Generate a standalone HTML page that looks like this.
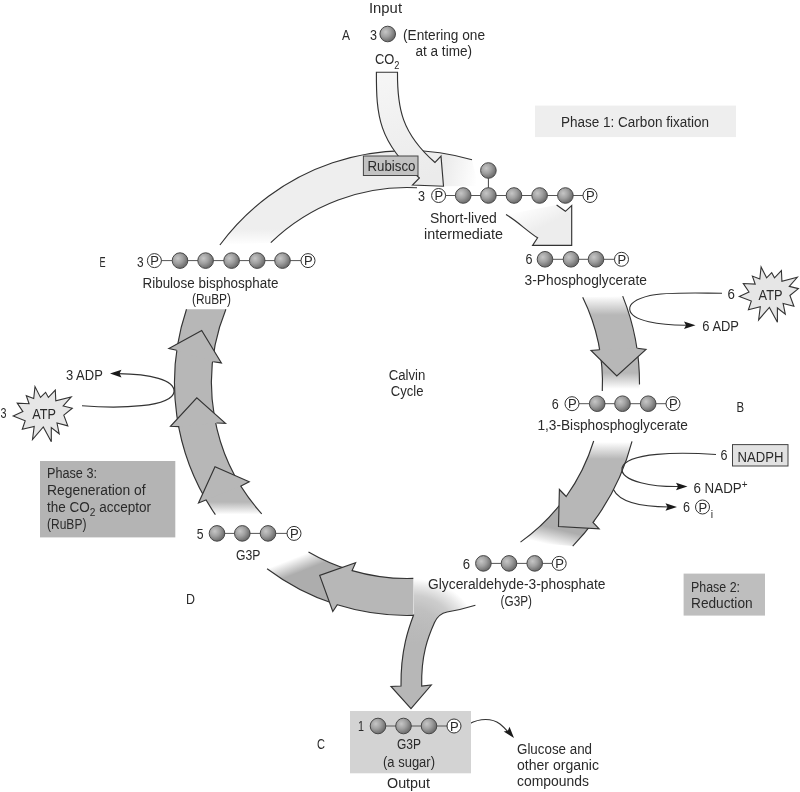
<!DOCTYPE html>
<html><head><meta charset="utf-8"><title>Calvin Cycle</title>
<style>
html,body{margin:0;padding:0;background:#fff;}
svg{display:block;filter:grayscale(1);}
text{font-family:"Liberation Sans",sans-serif;fill:#2a2a2a;}
</style></head><body>
<svg width="800" height="792" viewBox="0 0 800 792">
<defs>
<radialGradient id="ball" cx="0.36" cy="0.36" r="0.72">
<stop offset="0" stop-color="#c6c6c6"/><stop offset="0.45" stop-color="#a0a0a0"/><stop offset="1" stop-color="#606060"/>
</radialGradient>

<linearGradient id="gIn" gradientUnits="userSpaceOnUse" x1="386" y1="72" x2="420" y2="180"><stop offset="0" stop-color="#f6f6f6"/><stop offset="0.5" stop-color="#f0f0f0"/><stop offset="1" stop-color="#ebebeb"/></linearGradient>
<linearGradient id="gA1" gradientUnits="userSpaceOnUse" x1="0" y1="245" x2="0" y2="229"><stop offset="0" stop-color="#ffffff"/><stop offset="1" stop-color="#eeeeee"/></linearGradient>
<linearGradient id="gA1r" gradientUnits="userSpaceOnUse" x1="440" y1="170" x2="478" y2="178"><stop offset="0" stop-color="#e9e9e9"/><stop offset="1" stop-color="#ffffff"/></linearGradient>
<linearGradient id="gA2" gradientUnits="userSpaceOnUse" x1="524" y1="206" x2="536" y2="230"><stop offset="0" stop-color="#ffffff"/><stop offset="1" stop-color="#ededed"/></linearGradient>
<linearGradient id="gA3" gradientUnits="userSpaceOnUse" x1="0" y1="296" x2="0" y2="315"><stop offset="0" stop-color="#ffffff"/><stop offset="1" stop-color="#b7b7b7"/></linearGradient>
<linearGradient id="gA3b" gradientUnits="userSpaceOnUse" x1="0" y1="373" x2="0" y2="389"><stop offset="0" stop-color="#b7b7b7"/><stop offset="1" stop-color="#ffffff"/></linearGradient>
<linearGradient id="gA4" gradientUnits="userSpaceOnUse" x1="0" y1="442" x2="0" y2="459"><stop offset="0" stop-color="#ffffff"/><stop offset="1" stop-color="#b7b7b7"/></linearGradient>
<linearGradient id="gA4b" gradientUnits="userSpaceOnUse" x1="565" y1="531" x2="561" y2="547.5"><stop offset="0" stop-color="#adadad"/><stop offset="1" stop-color="#ffffff"/></linearGradient>
<radialGradient id="gA5r" gradientUnits="userSpaceOnUse" cx="0" cy="0" r="1" gradientTransform="translate(410,630) scale(72,56)"><stop offset="0" stop-color="#bcbcbc"/><stop offset="0.4" stop-color="#c0c0c0"/><stop offset="0.62" stop-color="#cdcdcd"/><stop offset="0.78" stop-color="#e6e6e6"/><stop offset="0.92" stop-color="#ffffff"/></radialGradient>
<linearGradient id="gA5s" gradientUnits="userSpaceOnUse" x1="0" y1="612" x2="0" y2="644"><stop offset="0" stop-color="#b7b7b7" stop-opacity="0"/><stop offset="1" stop-color="#b7b7b7" stop-opacity="1"/></linearGradient>
<linearGradient id="gA5l" gradientUnits="userSpaceOnUse" x1="288" y1="560.5" x2="293.5" y2="574.5"><stop offset="0" stop-color="#ffffff"/><stop offset="1" stop-color="#adadad"/></linearGradient>
<linearGradient id="gA7" gradientUnits="userSpaceOnUse" x1="0" y1="502" x2="0" y2="514.5"><stop offset="0" stop-color="#b7b7b7"/><stop offset="1" stop-color="#ffffff"/></linearGradient>
</defs>
<rect x="0" y="0" width="800" height="792" fill="#fff"/>
<path d="M219.9,245 A232.5,232.5 0 0 1 441,153 L441,155.6 L443.5,186.2 L412.5,185 L413,187.6 A195.5,195.5 0 0 0 270.8,242.7 Z" fill="url(#gA1)"/>
<path d="M441,155.6 L441,153 A232.5,232.5 0 0 1 472,159.8 L478,186 L443.5,186.2 Z" fill="url(#gA1r)"/>
<path d="M219.9,245 A232.5,232.5 0 0 1 472,159.8" fill="none" stroke="#333" stroke-width="1.15" stroke-linejoin="miter"/>
<path d="M270.8,242.7 A195.5,195.5 0 0 1 417,187.8" fill="none" stroke="#333" stroke-width="1.15" stroke-linejoin="miter"/>
<path d="M376.4,72.2 L397.5,72.2 C397.2,108.1 401.7,133.2 435,162.5 L441,156.1 L443.5,186.25 L412.5,185 L419.4,178 C378.5,142.3 376.2,115.4 376.4,72.2 Z" fill="url(#gIn)" stroke="#333" stroke-width="1.15" stroke-linejoin="miter"/>
<rect x="363.4" y="156" width="54.6" height="19.5" fill="#c2c2c2" stroke="#444" stroke-width="1"/>
<text x="367.5" y="171" font-size="14" textLength="48" lengthAdjust="spacingAndGlyphs" >Rubisco</text>
<path d="M506,214.6 C516,220 528,232 537.6,237.8 L532.6,245.4 L571.7,245.4 L571.7,205.5 L565.4,211.3 L556.6,205 " fill="url(#gA2)" stroke="#333" stroke-width="1.15" stroke-linejoin="miter"/>
<path d="M622.7,296.1 A232.5,232.5 0 0 1 637.4,352 L600,352 A195.5,195.5 0 0 0 582.7,297.3 Z" fill="url(#gA3)"/>
<path d="M636.4,345.2 A232.5,232.5 0 0 1 639.4,391 L602.3,391 A195.5,195.5 0 0 0 598.8,345 Z" fill="url(#gA3b)"/>
<path d="M622.7,296.1 A232.5,232.5 0 0 1 639.5,384.5" fill="none" stroke="#333" stroke-width="1.15" stroke-linejoin="miter"/>
<path d="M582.7,297.3 A195.5,195.5 0 0 1 602.3,391" fill="none" stroke="#333" stroke-width="1.15" stroke-linejoin="miter"/>
<path d="M599.7,349.8 L591,350.5 L616.8,375.9 L646,349.4 L637.3,348.3" fill="#b7b7b7" stroke="#333" stroke-width="1.15" stroke-linejoin="miter"/>
<path d="M594.3,520.7 A232.5,232.5 0 0 1 572.7,546.1 L520.5,542.1 A195.5,195.5 0 0 0 565.1,498 Z" fill="url(#gA4b)"/>
<path d="M594.3,520.7 A232.5,232.5 0 0 1 572.7,546.1" fill="none" stroke="#333" stroke-width="1.15" stroke-linejoin="miter"/>
<path d="M565.1,498 A195.5,195.5 0 0 1 520.5,542.1" fill="none" stroke="#333" stroke-width="1.15" stroke-linejoin="miter"/>
<path d="M632,441.4 A232.5,232.5 0 0 1 593,522.4 L599.1,528.8 L558.5,526.5 L559.4,489.5 L566.2,496.5 A195.5,195.5 0 0 0 593.7,441" fill="url(#gA4)"/>
<path d="M632,441.4 A232.5,232.5 0 0 1 593,522.4 L599.1,528.8 L558.5,526.5 L559.4,489.5 L566.2,496.5 A195.5,195.5 0 0 0 593.7,441" fill="none" stroke="#333" stroke-width="1.15" stroke-linejoin="miter"/>
<path d="M334.7,604 A232.5,232.5 0 0 1 267.1,568.7 L308.5,551.9 A195.5,195.5 0 0 0 352.1,570.6 Z" fill="url(#gA5l)"/>
<path d="M334.7,604 A232.5,232.5 0 0 1 267.1,568.7" fill="none" stroke="#333" stroke-width="1.15" stroke-linejoin="miter"/>
<path d="M352.1,570.6 A195.5,195.5 0 0 1 308.5,551.9" fill="none" stroke="#333" stroke-width="1.15" stroke-linejoin="miter"/>
<path d="M413.3,578.4 A195.5,195.5 0 0 0 470.3,568 L475.4,605.2 A232.5,232.5 0 0 1 447.1,612 C441 613.2 437 617 434.5 622.5 C428 637 421 655 421.7 686 L431.3,685 L411,708.7 L391,686.5 L401,686 C400.5 650 409 627 413.8 614.5 Z" fill="url(#gA5r)"/>
<path d="M413.3,578.4 A195.5,195.5 0 0 0 470.3,568 L475.4,605.2 A232.5,232.5 0 0 1 447.1,612 C441 613.2 437 617 434.5 622.5 C428 637 421 655 421.7 686 L431.3,685 L411,708.7 L391,686.5 L401,686 C400.5 650 409 627 413.8 614.5 Z" fill="url(#gA5s)"/>
<path d="M475.4,605.2 A232.5,232.5 0 0 1 447.1,612 C441 613.2 437 617 434.5 622.5 C428 637 421 655 421.7 686 L431.3,685 L411,708.7 L391,686.5 L401,686 C400.5 650 409 627 413.8 614.5" fill="none" stroke="#333" stroke-width="1.15" stroke-linejoin="miter"/>
<path d="M413.3,578.4 A195.5,195.5 0 0 1 352.1,570.6 L355.6,562.7 L319.7,575.4 L332.8,611.5 L337.3,604.8 A232.5,232.5 0 0 0 413.3,615.4" fill="#b7b7b7"/>
<path d="M413.3,578.4 A195.5,195.5 0 0 1 352.1,570.6 L355.6,562.7 L319.7,575.4 L332.8,611.5 L337.3,604.8 A232.5,232.5 0 0 0 413.3,615.4" fill="none" stroke="#333" stroke-width="1.15" stroke-linejoin="miter"/>
<path d="M203.3,495.2 A232.5,232.5 0 0 1 186.5,309.3 L225.9,309.3 A195.5,195.5 0 0 0 247.1,495.5 Z" fill="#b7b7b7"/>
<path d="M215.4,514.7 A232.5,232.5 0 0 1 202.9,494.4 L246.7,494.8 A195.5,195.5 0 0 0 261.7,513.8 Z" fill="url(#gA7)"/>
<path d="M215.4,514.7 A232.5,232.5 0 0 1 186.5,309.3" fill="none" stroke="#333" stroke-width="1.15" stroke-linejoin="miter"/>
<path d="M261.7,513.8 A195.5,195.5 0 0 1 225.9,309.3" fill="none" stroke="#333" stroke-width="1.15" stroke-linejoin="miter"/>
<path d="M206.5,499.8 L198.5,503 L215,466.8 L249.2,481.8 L240.5,486.2" fill="#b7b7b7" stroke="#333" stroke-width="1.15" stroke-linejoin="miter"/>
<path d="M179.2,426.6 L170.5,426.3 L196.8,397.8 L225.5,423.3 L216.5,423" fill="#b7b7b7" stroke="#333" stroke-width="1.15" stroke-linejoin="miter"/>
<path d="M176.6,350.2 L168.9,348.6 L201.7,330.5 L221.4,362.9 L213.2,361.7" fill="#b7b7b7" stroke="#333" stroke-width="1.15" stroke-linejoin="miter"/>
<path d="M722,293.2 C692,293 664,292 650,295.5 C636,299 629,304 629.7,309.5 C631,321 660,325.5 688,325.2" fill="none" stroke="#333" stroke-width="1.15"/>
<polygon points="695.5,325.2 684,329 686,325.2 684,321.4" fill="#1a1a1a"/>
<path d="M716,454.5 C680,452 626,452 622,468 C620,482 655,487 680,486.5" fill="none" stroke="#333" stroke-width="1.15"/>
<polygon points="687.5,486.5 676,490.3 678,486.5 676,482.7" fill="#1a1a1a"/>
<path d="M613.4,489.6 C620,503 645,507 669,507" fill="none" stroke="#333" stroke-width="1.15"/>
<polygon points="677,507 665.5,510.8 667.5,507 665.5,503.2" fill="#1a1a1a"/>
<path d="M82,405.7 C120,409 172,407 174,391.8 C175,380 150,374 118,373.6" fill="none" stroke="#333" stroke-width="1.15"/>
<polygon points="110,373.6 121.5,369.8 119.5,373.6 121.5,377.4" fill="#1a1a1a"/>
<path d="M469,724 C480,718 492,718 500,724 C505,728 508,732 510,734" fill="none" stroke="#333" stroke-width="1.15"/>
<polygon points="514,738 503.7,731.6 507.9,730.7 509.5,726.7" fill="#1a1a1a"/>
<polygon points="739.3,296.4 749,292 743.3,283.5 755.2,284.1 752.4,276.1 759.8,279 761.1,267 766.6,277.8 771.7,272.7 774.5,277.8 781.4,270.5 781.9,281.3 797.3,277.3 789.3,286.4 798.4,288.6 789.9,295.5 793.9,306.3 783.1,303.4 785.3,314.2 777.4,308 777.4,322.2 769.4,307.4 758.6,319.9 760.3,306.8 748.4,309.7 751.3,301.1" fill="#e6e6e6" stroke="#333" stroke-width="1.1" stroke-linejoin="miter"/>
<polygon points="13.2,416 22.9,411.6 17.2,403.1 29.1,403.7 26.3,395.7 33.7,398.6 35,386.6 40.5,397.4 45.6,392.3 48.4,397.4 55.3,390.1 55.8,400.9 71.2,396.9 63.2,406 72.3,408.2 63.8,415.1 67.8,425.9 57,423 59.2,433.8 51.3,427.6 51.3,441.8 43.3,427 32.5,439.5 34.2,426.4 22.3,429.3 25.2,420.7" fill="#e6e6e6" stroke="#333" stroke-width="1.1" stroke-linejoin="miter"/>
<rect x="535" y="105.6" width="201" height="31.5" fill="#eeeeee"/>
<text x="561" y="126.8" font-size="14" textLength="148" lengthAdjust="spacingAndGlyphs" >Phase 1: Carbon fixation</text>
<rect x="683.6" y="573.6" width="81.4" height="42" fill="#bebebe"/>
<text x="691" y="592.1" font-size="14" textLength="49" lengthAdjust="spacingAndGlyphs" >Phase 2:</text>
<text x="691" y="608" font-size="14" textLength="61.6" lengthAdjust="spacingAndGlyphs" >Reduction</text>
<rect x="40" y="461" width="135.3" height="76.4" fill="#b4b4b4"/>
<text x="47" y="478.1" font-size="14" textLength="50" lengthAdjust="spacingAndGlyphs" >Phase 3:</text>
<text x="47" y="495" font-size="14" textLength="98.7" lengthAdjust="spacingAndGlyphs" >Regeneration of</text>
<text x="47" y="511.5" font-size="14" textLength="104" lengthAdjust="spacingAndGlyphs" >the CO<tspan font-size="10.5" dy="4">2</tspan><tspan dy="-4"> acceptor</tspan></text>
<text x="47" y="528.5" font-size="14" textLength="39.4" lengthAdjust="spacingAndGlyphs" >(RuBP)</text>
<rect x="350" y="711" width="121" height="62.3" fill="#d3d3d3"/>
<rect x="732.5" y="444.6" width="55.5" height="21.4" fill="#e2e2e2" stroke="#444" stroke-width="1"/>
<text x="737.6" y="461.5" font-size="14" textLength="45.9" lengthAdjust="spacingAndGlyphs" >NADPH</text>
<circle cx="387.7" cy="34" r="7.8" fill="url(#ball)" stroke="#484848" stroke-width="1"/>
<line x1="488.4" y1="170.5" x2="488.4" y2="195.5" stroke="#444" stroke-width="1"/>
<circle cx="488.4" cy="170.5" r="7.8" fill="url(#ball)" stroke="#484848" stroke-width="1"/>
<line x1="438.6" y1="195.5" x2="590" y2="195.5" stroke="#555" stroke-width="1"/>
<circle cx="438.6" cy="195.5" r="7" fill="#fff" stroke="#333" stroke-width="1"/>
<text x="438.9" y="200.2" font-size="13" text-anchor="middle">P</text>
<circle cx="463.2" cy="195.5" r="7.8" fill="url(#ball)" stroke="#484848" stroke-width="1"/>
<circle cx="488.4" cy="195.5" r="7.8" fill="url(#ball)" stroke="#484848" stroke-width="1"/>
<circle cx="514" cy="195.5" r="7.8" fill="url(#ball)" stroke="#484848" stroke-width="1"/>
<circle cx="539.6" cy="195.5" r="7.8" fill="url(#ball)" stroke="#484848" stroke-width="1"/>
<circle cx="565.4" cy="195.5" r="7.8" fill="url(#ball)" stroke="#484848" stroke-width="1"/>
<circle cx="590" cy="195.5" r="7" fill="#fff" stroke="#333" stroke-width="1"/>
<text x="590.3" y="200.2" font-size="13" text-anchor="middle">P</text>
<line x1="545" y1="259.3" x2="621.5" y2="259.3" stroke="#555" stroke-width="1"/>
<circle cx="545" cy="259.3" r="7.8" fill="url(#ball)" stroke="#484848" stroke-width="1"/>
<circle cx="571" cy="259.3" r="7.8" fill="url(#ball)" stroke="#484848" stroke-width="1"/>
<circle cx="596" cy="259.3" r="7.8" fill="url(#ball)" stroke="#484848" stroke-width="1"/>
<circle cx="621.5" cy="259.3" r="7" fill="#fff" stroke="#333" stroke-width="1"/>
<text x="621.8" y="264" font-size="13" text-anchor="middle">P</text>
<line x1="572" y1="403.7" x2="673" y2="403.7" stroke="#555" stroke-width="1"/>
<circle cx="572" cy="403.7" r="7" fill="#fff" stroke="#333" stroke-width="1"/>
<text x="572.3" y="408.4" font-size="13" text-anchor="middle">P</text>
<circle cx="597.2" cy="403.7" r="7.8" fill="url(#ball)" stroke="#484848" stroke-width="1"/>
<circle cx="622.5" cy="403.7" r="7.8" fill="url(#ball)" stroke="#484848" stroke-width="1"/>
<circle cx="648.2" cy="403.7" r="7.8" fill="url(#ball)" stroke="#484848" stroke-width="1"/>
<circle cx="673" cy="403.7" r="7" fill="#fff" stroke="#333" stroke-width="1"/>
<text x="673.3" y="408.4" font-size="13" text-anchor="middle">P</text>
<line x1="483.4" y1="563.4" x2="559.2" y2="563.4" stroke="#555" stroke-width="1"/>
<circle cx="483.4" cy="563.4" r="7.8" fill="url(#ball)" stroke="#484848" stroke-width="1"/>
<circle cx="509" cy="563.4" r="7.8" fill="url(#ball)" stroke="#484848" stroke-width="1"/>
<circle cx="534.7" cy="563.4" r="7.8" fill="url(#ball)" stroke="#484848" stroke-width="1"/>
<circle cx="559.2" cy="563.4" r="7" fill="#fff" stroke="#333" stroke-width="1"/>
<text x="559.5" y="568.1" font-size="13" text-anchor="middle">P</text>
<line x1="378" y1="726" x2="454" y2="726" stroke="#555" stroke-width="1"/>
<circle cx="378" cy="726" r="7.8" fill="url(#ball)" stroke="#484848" stroke-width="1"/>
<circle cx="403.5" cy="726" r="7.8" fill="url(#ball)" stroke="#484848" stroke-width="1"/>
<circle cx="429" cy="726" r="7.8" fill="url(#ball)" stroke="#484848" stroke-width="1"/>
<circle cx="454" cy="726" r="7" fill="#fff" stroke="#333" stroke-width="1"/>
<text x="454.3" y="730.7" font-size="13" text-anchor="middle">P</text>
<line x1="217" y1="533.4" x2="294" y2="533.4" stroke="#555" stroke-width="1"/>
<circle cx="217" cy="533.4" r="7.8" fill="url(#ball)" stroke="#484848" stroke-width="1"/>
<circle cx="242.3" cy="533.4" r="7.8" fill="url(#ball)" stroke="#484848" stroke-width="1"/>
<circle cx="268" cy="533.4" r="7.8" fill="url(#ball)" stroke="#484848" stroke-width="1"/>
<circle cx="294" cy="533.4" r="7" fill="#fff" stroke="#333" stroke-width="1"/>
<text x="294.3" y="538.1" font-size="13" text-anchor="middle">P</text>
<line x1="154.4" y1="260.6" x2="308" y2="260.6" stroke="#555" stroke-width="1"/>
<circle cx="154.4" cy="260.6" r="7" fill="#fff" stroke="#333" stroke-width="1"/>
<text x="154.7" y="265.3" font-size="13" text-anchor="middle">P</text>
<circle cx="180" cy="260.6" r="7.8" fill="url(#ball)" stroke="#484848" stroke-width="1"/>
<circle cx="205.6" cy="260.6" r="7.8" fill="url(#ball)" stroke="#484848" stroke-width="1"/>
<circle cx="231.6" cy="260.6" r="7.8" fill="url(#ball)" stroke="#484848" stroke-width="1"/>
<circle cx="257.2" cy="260.6" r="7.8" fill="url(#ball)" stroke="#484848" stroke-width="1"/>
<circle cx="282.5" cy="260.6" r="7.8" fill="url(#ball)" stroke="#484848" stroke-width="1"/>
<circle cx="308" cy="260.6" r="7" fill="#fff" stroke="#333" stroke-width="1"/>
<text x="308.3" y="265.3" font-size="13" text-anchor="middle">P</text>
<text x="369" y="12.5" font-size="14" textLength="33" lengthAdjust="spacingAndGlyphs" >Input</text>
<text x="342" y="39.5" font-size="14" textLength="8" lengthAdjust="spacingAndGlyphs" >A</text>
<text x="370" y="39.5" font-size="14" textLength="7" lengthAdjust="spacingAndGlyphs" >3</text>
<text x="403" y="39.5" font-size="14" textLength="82" lengthAdjust="spacingAndGlyphs" >(Entering one</text>
<text x="415.5" y="56" font-size="14" textLength="56.5" lengthAdjust="spacingAndGlyphs" >at a time)</text>
<text x="375" y="63.5" font-size="14" textLength="24.5" lengthAdjust="spacingAndGlyphs" >CO<tspan font-size="10" dy="5.2">2</tspan></text>
<text x="418" y="200.5" font-size="14" textLength="7" lengthAdjust="spacingAndGlyphs" >3</text>
<text x="430" y="222.5" font-size="14" textLength="66.7" lengthAdjust="spacingAndGlyphs" >Short-lived</text>
<text x="424" y="238.5" font-size="14" textLength="79" lengthAdjust="spacingAndGlyphs" >intermediate</text>
<text x="525.5" y="264.3" font-size="14" textLength="7" lengthAdjust="spacingAndGlyphs" >6</text>
<text x="524.6" y="285.1" font-size="14" textLength="122.4" lengthAdjust="spacingAndGlyphs" >3-Phosphoglycerate</text>
<text x="727.4" y="299" font-size="14" textLength="7.4" lengthAdjust="spacingAndGlyphs" >6</text>
<text x="758.6" y="299.9" font-size="14" textLength="23.9" lengthAdjust="spacingAndGlyphs" >ATP</text>
<text x="702.3" y="330.5" font-size="14" textLength="36.7" lengthAdjust="spacingAndGlyphs" >6 ADP</text>
<text x="551.8" y="409.3" font-size="14" textLength="7" lengthAdjust="spacingAndGlyphs" >6</text>
<text x="537.4" y="430" font-size="14" textLength="150.6" lengthAdjust="spacingAndGlyphs" >1,3-Bisphosphoglycerate</text>
<text x="736.4" y="412.2" font-size="14" textLength="7.6" lengthAdjust="spacingAndGlyphs" >B</text>
<text x="720.5" y="459.5" font-size="14" textLength="7" lengthAdjust="spacingAndGlyphs" >6</text>
<text x="693.5" y="492.5" font-size="14" textLength="54" lengthAdjust="spacingAndGlyphs" >6 NADP<tspan font-size="10.5" dy="-4.5">+</tspan></text>
<text x="683" y="512" font-size="14" textLength="7" lengthAdjust="spacingAndGlyphs" >6</text>
<circle cx="702.5" cy="507" r="7" fill="#fff" stroke="#333" stroke-width="1"/>
<text x="702.8" y="511.7" font-size="13" text-anchor="middle">P</text>
<text x="710.8" y="517.5" font-size="10.5" >i</text>
<text x="462.7" y="568.5" font-size="14" textLength="7.3" lengthAdjust="spacingAndGlyphs" >6</text>
<text x="428" y="589.2" font-size="14" textLength="177.4" lengthAdjust="spacingAndGlyphs" >Glyceraldehyde-3-phosphate</text>
<text x="500.6" y="606.1" font-size="14" textLength="31.4" lengthAdjust="spacingAndGlyphs" >(G3P)</text>
<text x="388.7" y="380" font-size="14" textLength="36.7" lengthAdjust="spacingAndGlyphs" >Calvin</text>
<text x="390.8" y="396.2" font-size="14" textLength="32.7" lengthAdjust="spacingAndGlyphs" >Cycle</text>
<text x="358" y="731" font-size="14" textLength="6" lengthAdjust="spacingAndGlyphs" >1</text>
<text x="397" y="749.2" font-size="14" textLength="24" lengthAdjust="spacingAndGlyphs" >G3P</text>
<text x="383" y="766.5" font-size="14" textLength="52" lengthAdjust="spacingAndGlyphs" >(a sugar)</text>
<text x="387" y="788" font-size="14" textLength="43" lengthAdjust="spacingAndGlyphs" >Output</text>
<text x="317" y="748.5" font-size="14" textLength="8" lengthAdjust="spacingAndGlyphs" >C</text>
<text x="517" y="753.5" font-size="14" textLength="75" lengthAdjust="spacingAndGlyphs" >Glucose and</text>
<text x="517" y="769.5" font-size="14" textLength="82" lengthAdjust="spacingAndGlyphs" >other organic</text>
<text x="517" y="785.5" font-size="14" textLength="72" lengthAdjust="spacingAndGlyphs" >compounds</text>
<text x="186" y="603.5" font-size="14" textLength="9" lengthAdjust="spacingAndGlyphs" >D</text>
<text x="196.7" y="538.5" font-size="14" textLength="6.8" lengthAdjust="spacingAndGlyphs" >5</text>
<text x="236" y="559.7" font-size="14" textLength="24.4" lengthAdjust="spacingAndGlyphs" >G3P</text>
<text x="0.5" y="417.5" font-size="14" textLength="6" lengthAdjust="spacingAndGlyphs" >3</text>
<text x="32.3" y="419.3" font-size="14" textLength="23.7" lengthAdjust="spacingAndGlyphs" >ATP</text>
<text x="66" y="379.5" font-size="14" textLength="36.8" lengthAdjust="spacingAndGlyphs" >3 ADP</text>
<text x="99.4" y="266.5" font-size="14" textLength="6.1" lengthAdjust="spacingAndGlyphs" >E</text>
<text x="136.9" y="266.5" font-size="14" textLength="6.6" lengthAdjust="spacingAndGlyphs" >3</text>
<text x="142.5" y="287.5" font-size="14" textLength="135.9" lengthAdjust="spacingAndGlyphs" >Ribulose bisphosphate</text>
<text x="192" y="303.9" font-size="14" textLength="39" lengthAdjust="spacingAndGlyphs" >(RuBP)</text>
</svg></body></html>
